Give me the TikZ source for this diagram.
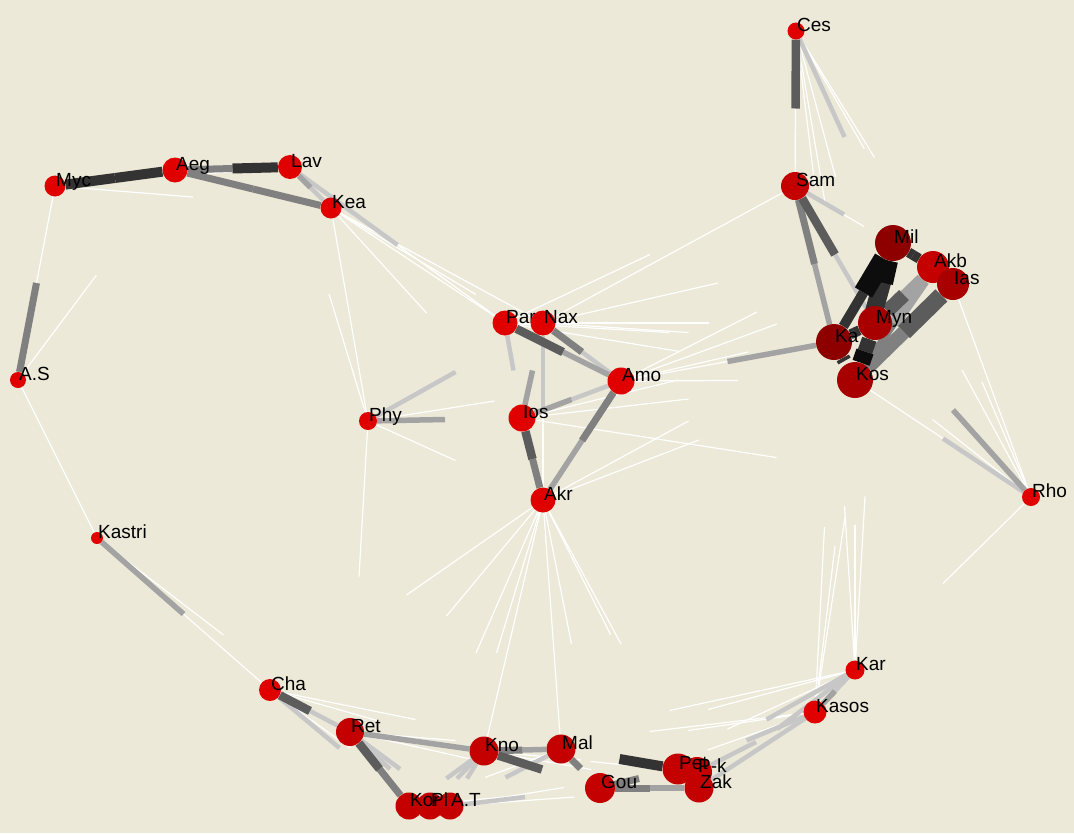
\documentclass[tikz,border=0pt]{standalone}
\usepackage{fontspec}
\newfontfamily\lblfont{Liberation Sans}
\usetikzlibrary{calc}
\definecolor{paper}{HTML}{ECE9D8}
\definecolor{sitered}{HTML}{E00000}
\definecolor{sitemid}{HTML}{C40000}
\definecolor{sitedark}{HTML}{A80000}
\definecolor{sitedeep}{HTML}{8E0000}
\pgfdeclarelayer{edges}
\pgfsetlayers{edges,main}
\tikzset{
  site/.style={circle, inner sep=0pt, minimum size=#1},
  lbl/.style={anchor=base west, inner sep=0pt, xshift=1pt, font=\lblfont\fontsize{19}{19}\selectfont},
  wl/.style={draw=white, line width=1.2pt},
  e1/.style={draw=black!22, line width=4.5pt},
  e2/.style={draw=black!36, line width=5.5pt},
  e3/.style={draw=black!50, line width=7pt},
  e4/.style={draw=black!64, line width=8.5pt},
  e5/.style={draw=black!80, line width=10pt},
  e6/.style={draw=black!95, line width=15pt},
  wide/.style={line width=#1}
}

\begin{document}
\begin{tikzpicture}[x=1pt, y=-1pt]
    \useasboundingbox (0,0) rectangle (1074,833);
    % Sites
    \foreach \n/\x/\y/\d/\c/\t in {
      ces/796/31/17/sitered/Ces, myc/55/186/21/sitered/Myc, aeg/175/170/25/sitered/Aeg,
      lav/290/167/24/sitered/Lav, kea/331/208/21/sitered/Kea, sam/795/186/28/sitemid/Sam,
      mil/893/243/36/sitedeep/Mil, akb/933/267/32/sitemid/Akb, ias/953/284/32/sitedark/Ias,
      kal/834/342/36/sitedeep/Ka, myn/875/323/34/sitedark/Myn, kos/855/380/36/sitedark/Kos,
      par/505/323/25/sitered/Par, nax/543/323/25/sitered/Nax, amo/621/381/27/sitered/Amo,
      ios/522/418/27/sitered/Ios, akr/543/500/25/sitered/Akr, phy/368/421/18/sitered/Phy,
      as/18/380/16/sitered/A.S, kastri/97/538/12/sitered/Kastri, rho/1031/497/18/sitered/Rho,
      kar/855/670/19/sitered/Kar, kasos/815/712/23/sitered/Kasos, cha/270/690/22/sitered/Cha,
      ret/350/732/28/sitemid/Ret, kno/484/751/29/sitemid/Kno, mal/561/749/29/sitemid/Mal,
      gou/600/788/30/sitemid/Gou, pk/697/772/30/sitemid/P-k, pet/678/769/31/sitemid/Pet,
      zak/699/788/29/sitemid/Zak, at/450/806/27/sitemid/A.T, pl/430/806/27/sitemid/Pl,
      kor/409/806/27/sitemid/Kor}
    {
      \node[site=\d, fill=\c] (\n) at (\x,\y) {};
      \node[lbl] at (\n.center) {\t};
    }
    \begin{pgfonlayer}{edges}
    \fill[paper] (0,0) rectangle (1074,833);
    % Weak links
    \foreach \a/\b in {myc/kea, myc/as, lav/myc, as/aeg, as/kastri, kastri/as, kastri/ret,
      cha/kastri, kea/phy, phy/kea, phy/lav, kea/par, kea/nax, kea/ios, kea/amo, par/kea,
      nax/kea, par/lav, phy/akr, phy/ret, phy/amo, nax/sam, sam/nax, par/sam, par/kal,
      nax/kal, par/kos, nax/mil, nax/myn, par/myn, amo/kal, amo/mil, amo/myn, amo/kos,
      amo/akb, ios/kos, ios/rho, ios/kal, akr/kal, akr/kos, akr/nax, akr/kno, akr/mal,
      akr/gou, akr/pet, akr/zak, akr/kor, akr/at, akr/ret, akr/cha, kno/akr, mal/akr,
      sam/ces, ces/kal, ces/myn, ces/kos, ces/ias, ces/akb, sam/akb, rho/mil, rho/ias,
      rho/kal, rho/akb, ias/rho, kos/rho, rho/kar, kar/kos, kar/myn, kar/kal, kasos/kos,
      kasos/kal, kasos/myn, cha/kno, cha/mal, cha/pl, kasos/kno, kasos/mal, kar/mal,
      kar/gou, kar/kno, kasos/gou, mal/kor, at/zak, at/pet, kor/gou, pl/gou, kno/zak,
      kno/pet, pk/kno, ret/mal, ret/gou}
      \draw[wl] (\a) -- ($(\a)!.5!(\b)$);
    % Strong links, light to dark
    \foreach \a/\b in {kea/lav, lav/par, phy/nax, par/ios, amo/nax, amo/ios, nax/akr,
      ces/mil, sam/mil, myn/sam, ret/cha, cha/kor, ret/pl, ret/at, kno/kor, kno/pl, kno/at,
      at/gou, rho/kos, kar/kasos, kar/pet, kar/zak, kasos/pet, kasos/zak, pk/kasos,
      zak/kasos, mal/at}
      \draw[e1] (\a) -- ($(\a)!.5!(\b)$);
    \foreach \a/\b in {lav/kea, kastri/cha, phy/ios, ios/amo, ios/nax, akr/amo, kal/amo,
      kal/sam, ret/kno, kno/ret, amo/par, rho/myn, mal/kno, zak/gou, kasos/kar}
      \draw[e2] (\a) -- ($(\a)!.5!(\b)$);
    \draw[e2, wide=12pt] (akb) -- ($(akb)!.5!(kos)$);
    \draw[e2, wide=10pt] (akb) -- ($(akb)!.5!(myn)$);
    \foreach \a/\b in {as/myc, aeg/lav, aeg/kea, kea/aeg, sam/kal, nax/amo, amo/akr,
      akr/ios, kor/ret, mal/gou, gou/pet, gou/zak, kno/mal, kos/akb}
      \draw[e3] (\a) -- ($(\a)!.5!(\b)$);
    \draw[e3, wide=14pt] (kos) -- ($(kos)!.5!(ias)$);
    \foreach \a/\b in {ces/sam, par/amo, ios/akr, sam/myn, cha/ret, ret/kor, kno/gou}
      \draw[e4] (\a) -- ($(\a)!.5!(\b)$);
    \draw[e4, wide=17pt] (ias) -- ($(ias)!.5!(kos)$);
    \draw[e4, wide=14pt] (myn) -- ($(myn)!.5!(akb)$);
    \foreach \a/\b in {aeg/myc, lav/aeg, myc/aeg, pet/mal, myn/mil, mil/akb, akb/mil,
      kal/mil, kal/myn, myn/kal}
      \draw[e5] (\a) -- ($(\a)!.5!(\b)$);
    \draw[e5, wide=18pt] (mil) -- ($(mil)!.5!(kos)$);
    \draw[e5, wide=15pt] (myn) -- ($(myn)!.5!(kos)$);
    \draw[e5, wide=14pt] (kal) -- ($(kal)!.5!(kos)$);
    \draw[e6, wide=20pt] (mil) -- ($(mil)!.5!(kal)$);
    \draw[e6, wide=18pt] (mil) -- ($(mil)!.5!(myn)$);
    \draw[e6, wide=18pt] (kos) -- ($(kos)!.5!(myn)$);
    \end{pgfonlayer}
\end{tikzpicture}
\end{document}
